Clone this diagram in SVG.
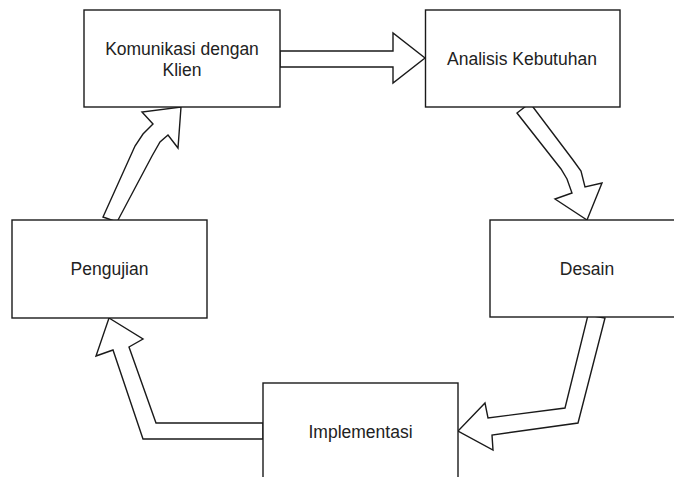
<svg xmlns="http://www.w3.org/2000/svg" width="674" height="477" viewBox="0 0 674 477">
<style>
.box{fill:#fff;stroke:#1a1a1a;stroke-width:1.4}
.lbl{font-family:"Liberation Sans",Arial,sans-serif;font-size:17.5px;fill:#222;text-anchor:middle}
.arr{fill:#fff;stroke:#1a1a1a;stroke-width:1.4;stroke-linejoin:miter}
</style>
<rect width="674" height="477" fill="#fff"/>
<g id="connectors">
<polygon class="arr" points="280,51 393,51 393,33 425,58 393,83 393,67 280,67"/>
<polygon class="arr" points="517,113 530,103 573,160 581,171 585,187 602,183 587,220 555,199 572,193 567,179 561,169"/>
<polygon class="arr" points="588,315 605,318 578,423 492,435 493,450 458,431 485,403 488,418 565,408"/>
<polygon class="arr" points="263,423 156,423 129,347 143,339 109,318 96,356 113,350 143,439 263,439"/>
<polygon class="arr" points="103,217 117,222 152,156 160,142 168,135 178,148 181,107 142,112 153,124 143,134 135,146"/>
</g>
<g id="komunikasi">
<rect class="box" x="84" y="10" width="196" height="97"/>
<text class="lbl" x="182" y="55">Komunikasi dengan</text>
<text class="lbl" x="182" y="76">Klien</text>
</g>
<g id="analisis">
<rect class="box" x="425.5" y="10" width="194.5" height="97"/>
<text class="lbl" x="522" y="64.5">Analisis Kebutuhan</text>
</g>
<g id="desain">
<rect class="box" x="490" y="220" width="194" height="97"/>
<text class="lbl" x="587" y="275">Desain</text>
</g>
<g id="pengujian">
<rect class="box" x="12" y="220" width="195" height="98"/>
<text class="lbl" x="109.5" y="275">Pengujian</text>
</g>
<g id="implementasi">
<rect class="box" x="263" y="383" width="195" height="97"/>
<text class="lbl" x="360.5" y="438">Implementasi</text>
</g>
</svg>
